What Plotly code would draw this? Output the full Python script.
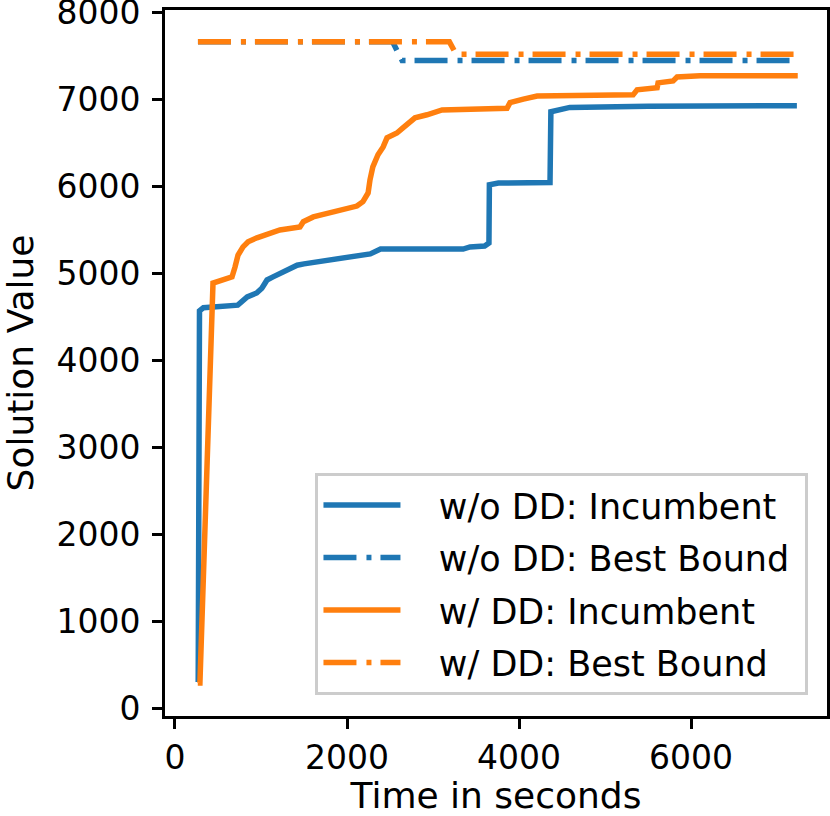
import plotly.graph_objects as go

# Incumbent / best bound traces
wo_inc_t = [270, 285, 330, 730, 840, 950, 1010, 1070, 1140, 1260, 1420, 1500, 1840, 2070,
            2270, 2390, 3350, 3430, 3600, 3650, 3655, 3760, 4360, 4370, 4590, 5500, 7230]
wo_inc_v = [300, 4570, 4605, 4635, 4730, 4775, 4830, 4925, 4960, 5020, 5095, 5110, 5165, 5200,
            5225, 5280, 5280, 5305, 5315, 5350, 6020, 6040, 6045, 6860, 6910, 6922, 6930]

wo_bnd_t = [267, 2530, 2640, 7200]
wo_bnd_v = [7664, 7664, 7450, 7450]

w_inc_t = [265, 290, 442, 663, 698, 733, 791, 850, 953, 1070, 1220, 1453, 1492, 1608, 1800,
           1940, 2115, 2185, 2245, 2267, 2300, 2360, 2420, 2465, 2580, 2650, 2790, 2930, 3105,
           3860, 3895, 4050, 4210, 5326, 5372, 5605, 5616, 5791, 5837, 6105, 7240]
w_inc_v = [290, 290, 4890, 4960, 5075, 5210, 5305, 5365, 5410, 5445, 5500, 5535, 5595, 5650, 5695,
           5740, 5775, 5825, 5925, 6075, 6225, 6365, 6455, 6560, 6615, 6675, 6790, 6825, 6880,
           6900, 6965, 7005, 7040, 7054, 7112, 7135, 7192, 7215, 7260, 7273, 7275]

w_bnd_t = [267, 3190, 3270, 7230]
w_bnd_v = [7664, 7664, 7520, 7520]

x_ticks = [0, 2000, 4000, 6000]
y_ticks = [0, 1000, 2000, 3000, 4000, 5000, 6000, 7000, 8000]

BLUE = "#1f77b4"
ORANGE = "#ff7f0e"
DASHDOT = "33px,10px,5px,9px"
FONT = "DejaVu Sans"
NB = "\u00a0"  # non-breaking spaces pad the legend labels

fig = go.Figure()

series = [
    (wo_inc_t, wo_inc_v, "w/o DD: Incumbent", BLUE, "solid"),
    (wo_bnd_t, wo_bnd_v, "w/o DD: Best Bound", BLUE, DASHDOT),
    (w_inc_t, w_inc_v, "w/ DD: Incumbent", ORANGE, "solid"),
    (w_bnd_t, w_bnd_v, "w/ DD: Best Bound", ORANGE, DASHDOT),
]
for i, (t, v, name, color, dash) in enumerate(series):
    fig.add_trace(go.Scatter(
        x=t, y=v, mode="lines", name=NB * 3 + name + NB,
        legendgroup=f"g{i}",
        line=dict(color=color, width=5.5, dash=dash),
    ))

fig.update_layout(
    width=830,
    height=816,
    margin=dict(l=165, r=3, t=10, b=100),
    plot_bgcolor="white",
    paper_bgcolor="white",
    font=dict(family=FONT, size=33, color="black"),
    showlegend=True,
    legend=dict(
        x=0.972, y=0.03, xanchor="right", yanchor="bottom",
        bgcolor="rgba(255,255,255,0.8)",
        bordercolor="#cccccc", borderwidth=3,
        font=dict(family=FONT, size=35, color="black"),
        traceorder="grouped",
        tracegroupgap=4,
        itemwidth=77,
    ),
)

fig.update_xaxes(
    range=[-116, 7580],
    tickvals=x_ticks,
    ticktext=[str(v) for v in x_ticks],
    ticks="outside", ticklen=10, tickwidth=3, tickcolor="black",
    showline=True, linecolor="black", linewidth=3, mirror=True,
    showgrid=False, zeroline=False,
    tickfont=dict(family=FONT, size=33),
    ticklabeloverflow="allow",
    automargin=False,
    title=dict(text="Time in seconds", font=dict(family=FONT, size=36), standoff=6),
)
fig.update_yaxes(
    range=[-90, 8030],
    tickvals=y_ticks,
    ticktext=[str(v) for v in y_ticks],
    ticks="outside", ticklen=10, tickwidth=3, tickcolor="black",
    showline=True, linecolor="black", linewidth=3, mirror=True,
    showgrid=False, zeroline=False,
    tickfont=dict(family=FONT, size=33),
    ticklabeloverflow="allow",
    ticklabelstandoff=5,
    automargin=False,
    title=dict(text="Solution Value", font=dict(family=FONT, size=36), standoff=18),
)

fig.write_html("out.html", config={"displayModeBar": False},
               post_script="document.body.style.margin='0';")
